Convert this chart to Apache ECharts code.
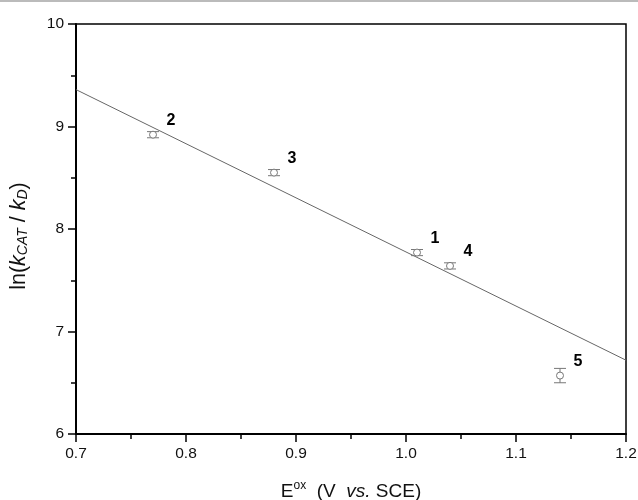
<!DOCTYPE html>
<html><head><meta charset="utf-8">
<script src="https://cdn.jsdelivr.net/npm/echarts@6/dist/echarts.min.js"></script>
<style>html,body{margin:0;padding:0;background:#fff}#c{width:638px;height:500px}#b{position:absolute;left:0;top:0;width:638px;height:2px;background:#bbb}</style>
</head><body><div id="c"></div><div id="b"></div>
<script>
// Data
const labels = ['1','2','3','4','5'];
const xVals = [1.01, 0.77, 0.88, 1.04, 1.14];
const yVals = [7.77, 8.92, 8.55, 7.64, 6.57];
const yErr  = [0.03, 0.03, 0.03, 0.03, 0.07];
const fitX = [0.7, 1.2];
const fitY = [9.36, 6.72];
const xTicks = [0.7, 0.8, 0.9, 1.0, 1.1, 1.2];
const yTicks = [6, 7, 8, 9, 10];

const pts = xVals.map((x,i)=>[x, yVals[i], yErr[i], labels[i]]);
const chart = echarts.init(document.getElementById('c'), null, {renderer:'canvas'});
const font = 'Liberation Sans, Arial, sans-serif';
chart.setOption({
  animation:false,
  grid:{left:76, right:12, top:24, bottom:66, show:true, borderColor:'#000', borderWidth:1.5, containLabel:false, outerBoundsMode:'none'},
  xAxis:{type:'value', min:0.7, max:1.2, interval:0.1,
    axisLine:{show:true, onZero:false, lineStyle:{color:'#000', width:2}},
    axisTick:{show:true, inside:false, length:8, lineStyle:{color:'#000', width:1.5}},
    minorTick:{show:true, splitNumber:2, length:5, lineStyle:{color:'#000', width:1.5}},
    splitLine:{show:false},
    axisLabel:{margin:12, fontSize:15.5, color:'#111', fontFamily:font,
      formatter:v=>{const t=xTicks.find(a=>Math.abs(a-v)<1e-6); return t===undefined?'':t.toFixed(1);}},
    name:'{n|E}{sup|ox}{n|  (V  }{i|vs.}{n| SCE)}', nameLocation:'middle', nameGap:46,
    nameTextStyle:{fontFamily:font, color:'#111',
      rich:{n:{fontSize:19, fontFamily:font, color:'#111'}, i:{fontSize:19, fontStyle:'italic', fontFamily:font, color:'#111'},
            sup:{fontSize:12, fontFamily:font, color:'#111', verticalAlign:'top', lineHeight:24}}}
  },
  yAxis:{type:'value', min:6, max:10, interval:1,
    axisLine:{show:true, onZero:false, lineStyle:{color:'#000', width:2}},
    axisTick:{show:true, inside:false, length:8, lineStyle:{color:'#000', width:1.5}},
    minorTick:{show:true, splitNumber:2, length:5, lineStyle:{color:'#000', width:1.5}},
    splitLine:{show:false},
    axisLabel:{margin:12, fontSize:15.5, color:'#111', fontFamily:font,
      formatter:v=>{const t=yTicks.find(a=>Math.abs(a-v)<1e-6); return t===undefined?'':String(t);}},
    name:'{n|ln(}{k|k}{s|CAT}{n| / }{k|k}{s|D}{n|)}', nameLocation:'middle', nameGap:46, nameRotate:90,
    nameTextStyle:{fontFamily:font, color:'#111', padding:[0,14,0,0],
      rich:{n:{fontSize:21.5, fontFamily:font, color:'#111'}, k:{fontSize:21.5, fontStyle:'italic', fontFamily:font, color:'#111'},
            s:{fontSize:14, fontStyle:'italic', fontFamily:font, color:'#111', verticalAlign:'bottom', lineHeight:14, padding:[10,0,0,0]}}}
  },
  series:[
    {type:'line', data:fitX.map((x,i)=>[x,fitY[i]]), symbol:'none', lineStyle:{color:'#666', width:1}, silent:true, z:1},
    {type:'custom', data:pts, z:3,
      renderItem:(params, api)=>{
        const x=api.value(0), y=api.value(1), e=api.value(2);
        const c=api.coord([x,y]), top=api.coord([x,y+e]), bot=api.coord([x,y-e]);
        const hw=6, col='#777';
        return {type:'group', children:[
          {type:'line', shape:{x1:c[0],y1:top[1],x2:c[0],y2:bot[1]}, style:{stroke:col, lineWidth:1}},
          {type:'line', shape:{x1:c[0]-hw,y1:top[1],x2:c[0]+hw,y2:top[1]}, style:{stroke:col, lineWidth:1}},
          {type:'line', shape:{x1:c[0]-hw,y1:bot[1],x2:c[0]+hw,y2:bot[1]}, style:{stroke:col, lineWidth:1}},
          {type:'circle', shape:{cx:c[0], cy:c[1], r:3.5}, style:{fill:'#fff', stroke:col, lineWidth:1}},
          {type:'text', x:c[0]+18, y:c[1]-14, style:{text:api.value(3), font:'bold 16px '+font, fill:'#000', align:'center', verticalAlign:'middle'}}
        ]};
      }
    }
  ]
});
</script></body></html>
